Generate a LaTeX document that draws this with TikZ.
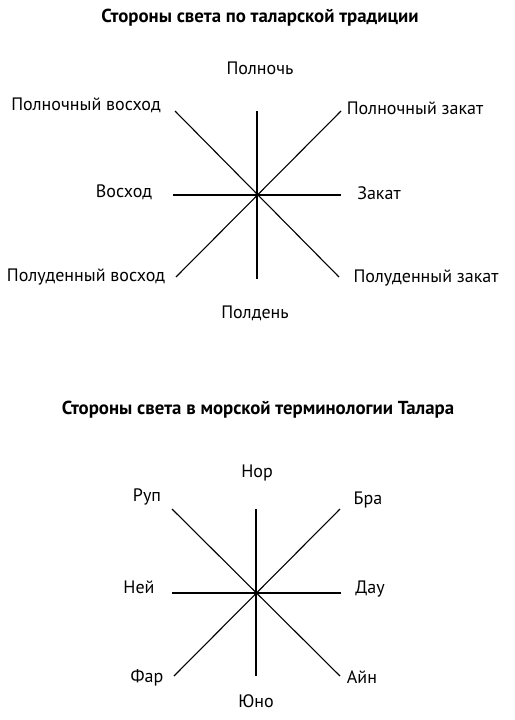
\documentclass[tikz,border=0pt]{standalone}
\usepackage{fontspec}
\setmainfont{PT Sans}
\tikzset{
    point/.style = {
        font = \fontsize{18}{20}\selectfont,
        inner sep = 0pt,
    },
    heading/.style = {
        font = \bfseries\fontsize{18.8}{21}\selectfont,
        inner sep = 0pt,
    },
    ray/.style = {
        draw = black,
        line width = 1.1pt,
    }
}

\begin{document}
\begin{tikzpicture}[x=1pt,y=-1pt]
  \useasboundingbox (0,0) rectangle (514,720);

  % Talar tradition
  \node[heading] (TitleTradition) at (260,18) {Стороны света по таларской традиции};

  \coordinate (Center) at (257,195);
  \coordinate (N) at (257,111);
  \coordinate (S) at (257,279);
  \coordinate (E) at (173,195);
  \coordinate (W) at (341,195);
  \coordinate (NE) at (175,111);
  \coordinate (SW) at (339,277);
  \coordinate (NW) at (341,111);
  \coordinate (SE) at (176,277);

  \draw[ray] (N) -- (S);
  \draw[ray] (E) -- (W);
  \draw[ray] (NE) -- (SW);
  \draw[ray] (NW) -- (SE);

  \node[point] (Midnight) at (260,68) {Полночь};
  \node[point] (MidnightSunrise) at (86,105) {Полночный восход};
  \node[point] (MidnightSunset) at (415,108) {Полночный закат};
  \node[point] (Sunrise) at (124,192) {Восход};
  \node[point] (Sunset) at (379,193) {Закат};
  \node[point] (NoonSunrise) at (86,277) {Полуденный восход};
  \node[point] (NoonSunset) at (426,278) {Полуденный закат};
  \node[point] (Noon) at (255,313) {Полдень};

  % Sea terms
  \node[heading] (TitleSea) at (258,410) {Стороны света в морской терминологии Талара};

  \coordinate (SeaCenter) at (256,593);
  \coordinate (SeaN) at (256,509);
  \coordinate (SeaS) at (256,676);
  \coordinate (SeaE) at (172,593);
  \coordinate (SeaW) at (341,593);
  \coordinate (SeaNE) at (172,509);
  \coordinate (SeaSW) at (340,676);
  \coordinate (SeaNW) at (340,509);
  \coordinate (SeaSE) at (174,676);

  \draw[ray] (SeaN) -- (SeaS);
  \draw[ray] (SeaE) -- (SeaW);
  \draw[ray] (SeaNE) -- (SeaSW);
  \draw[ray] (SeaNW) -- (SeaSE);

  \node[point] (Nor) at (257,473) {Нор};
  \node[point] (Rup) at (147,497) {Руп};
  \node[point] (Bra) at (368,500) {Бра};
  \node[point] (Ney) at (139,587) {Ней};
  \node[point] (Dau) at (370,589) {Дау};
  \node[point] (Far) at (147,678) {Фар};
  \node[point] (Ayn) at (362,677) {Айн};
  \node[point] (Yuno) at (256,701) {Юно};

\end{tikzpicture}
\end{document}
